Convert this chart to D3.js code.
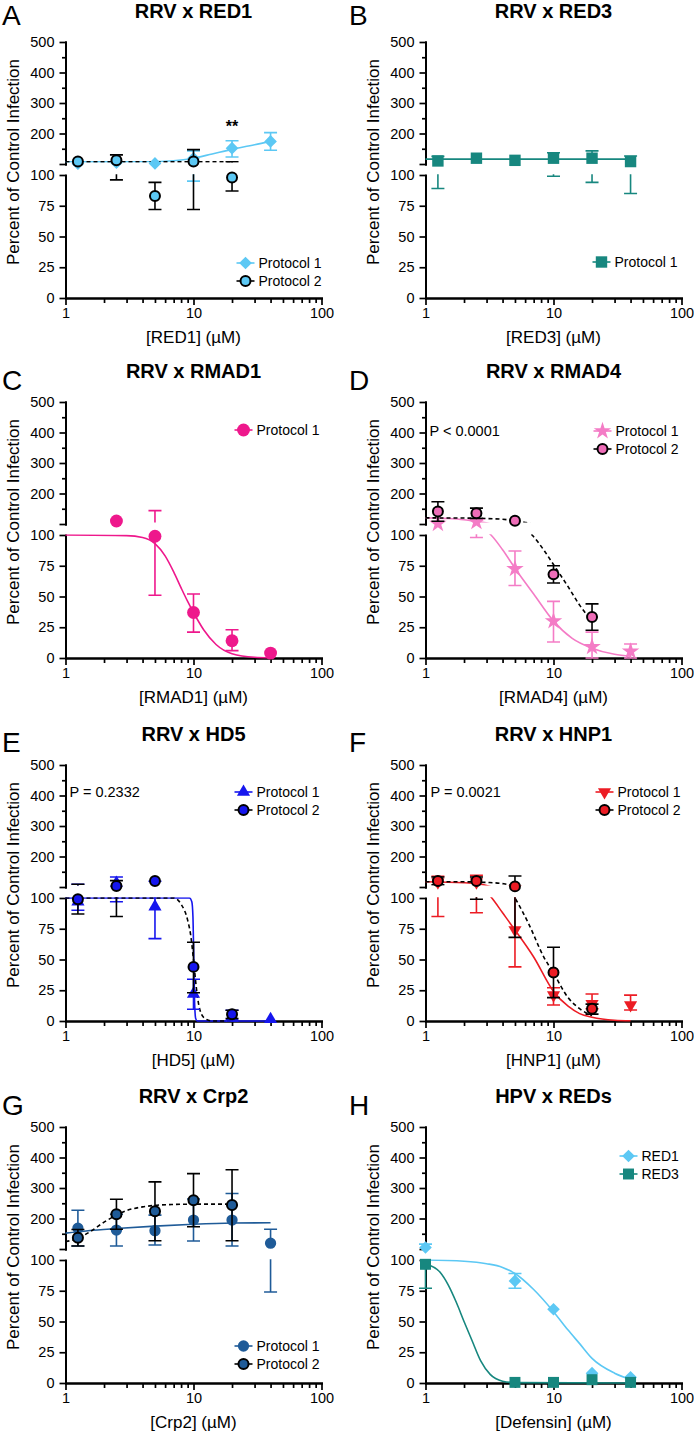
<!DOCTYPE html>
<html>
<head>
<meta charset="utf-8">
<script src="https://cdn.jsdelivr.net/npm/d3@7"></script>
<style>
  body { margin: 0; background: #fff; }
  svg { display: block; }
</style>
</head>
<body>
<svg id="fig" width="694" height="1431"></svg>
<script>
// ---- ticks ----
const xMajor = [1, 10, 100];
const xMinor = [2, 3, 4, 5, 6, 7, 8, 9, 20, 30, 40, 50, 60, 70, 80, 90];
const yLowTicks = [0, 25, 50, 75, 100];
const yHighTicks = [100, 200, 300, 400, 500];
const yHighMinor = [150, 250, 350, 450];

// ---- points: [dose µM, mean, low, high] ----
const red1P1 = [[1.25,101,null,null],[2.5,104,null,null],[5,102,null,null],[10,119,95,143],[20,152,123,176],[40,174,145,203]];
const red1P2 = [[1.25,108,null,null],[2.5,112,96,130],[5,83,72,94],[10,108,72,147],[20,98,87,107]];
const red3P1 = [[1.25,110,89,125],[2.5,119,null,null],[5,112,null,null],[10,119,99,137],[20,119,94,143],[40,108,85,126]];
const rmad1P1 = [[2.5,110,null,null],[5,99,51,144],[10,37,21,52],[20,14,6,23],[40,4,null,null]];
const rmad4P1 = [[1.25,101,null,null],[2.5,107,98,116],[5,72.5,59,87],[10,30,13,46],[20,9,0,21],[40,5.4,0,11.4]];
const rmad4P2 = [[1.25,141,109,173],[2.5,135,118,152],[5,111,null,null],[10,68,61,75],[20,33.4,22.6,44]];
const hd5P1 = [[1.25,97,90,109],[2.5,113,97,133],[5,93,67,119],[10,22,9.6,34],[20,4,0,8.8],[40,1.4,null,null]];
const hd5P2 = [[1.25,99,87,109],[2.5,103,85,121],[5,120,null,null],[10,44,23,64],[20,5.5,2,8.8]];
const hnp1P1 = [[1.25,116,85,135],[2.5,116,88,138],[5,74,44,104],[10,21,13,27],[20,14,10,22],[40,13,9,21]];
const hnp1P2 = [[1.25,120,107,133],[2.5,120,99,133],[5,102,68,136],[10,39.5,19,60],[20,10,5.6,13.7]];
const crp2P1 = [[1.25,168,110,227],[2.5,162,110,214],[5,160,113,211],[10,195,126,264],[20,195,110,282],[40,119,74,165]];
const crp2P2 = [[1.25,137,110,164],[2.5,214,165,263],[5,224,127,320],[10,260,173,347],[20,244,127,360]];
const hpvRed1 = [[1,105,null,116],[5,83,77,89],[10,60,null,null],[20,8,null,null],[40,4.6,null,null]];
const hpvRed3 = [[1,96.5,77,null],[5,0.5,null,null],[10,0.5,null,null],[20,2.7,null,null],[40,0.5,null,null]];

// ---- fitted curves: [dose µM, value] ----
const red1P1Fit = [[1,107],[2,107],[4,107.5],[6,109],[8,113],[10,119],[14,133],[20,148],[30,163],[40,175]];
const red1P2Fit = [[1,107],[20,107]];
const red3P1Fit = [[1,116],[40,116]];
const rmad1P1Fit = [[1,100],[3,99.5],[4,98],[5,93],[6,83],[7,70],[8,57],[9,46],[10,37],[12,23],[15,11],[20,3.5],[30,0.6],[40,0.2]];
const rmad4P1Fit = [[1,120],[1.5,118],[2,114],[2.5,108],[3.25,100],[4,88],[5,73],[7,52],[10,30],[14,16],[20,8],[30,3],[40,1.5]];
const rmad4P2Fit = [[1,120],[2,119.5],[3,118],[4,115.5],[5,111],[6,105],[6.8,100],[8.5,87],[10,76],[13,58],[16,43],[20,30]];
const hd5P1Fit = [[1,100],[9.3,100],[9.7,97],[9.9,85],[10.05,50],[10.2,15],[10.4,2],[10.7,0],[40,0]];
const hd5P2Fit = [[1,100],[7,100],[8,95],[9,82],[9.5,70],[10,50],[10.5,28],[11,13],[12,3],[14,0],[20,0]];
const hnp1P1Fit = [[1,117],[2,114],[2.5,111],[3,105],[3.3,100],[4,88],[5,74],[7,52],[10,24],[13,12],[16,6],[20,3],[30,0.6],[40,0.2]];
const hnp1P2Fit = [[1,117],[2,117],[3,115],[4,111],[4.6,106],[5,100],[6.4,79],[8.4,52],[10,39],[13,19],[16,10],[20,4.5]];
const crp2P1Fit = [[1,152],[1.5,160],[2.5,167],[5,175],[10,181],[20,185],[40,186]];
const crp2P2Fit = [[1,124],[1.25,135],[1.6,160],[2,188],[2.5,211],[3,226],[4,238],[5,243],[7,246],[10,247],[20,247]];
const hpvRed1Fit = [[1,100],[2,99],[3,97],[4,94],[5,89],[7,76],[10,58],[13,43],[16,32],[20,20],[30,8],[40,3]];
const hpvRed3Fit = [[1,97],[1.3,90],[1.5,80],[1.75,65],[2,50],[2.3,35],[2.7,18],[3.2,7],[4,1.5],[5,0.3],[40,0]];

// ---- colours ----
const sky = "#5CC8F4", teal = "#17877F", hotPink = "#EE188C", lightPink = "#F47CC6",
      blue = "#1616EE", red = "#EC1C24", navy = "#1F5B98";

const panels = [
  { letter:"A", title:"RRV x RED1", xlab:"[RED1] (µM)", col:0, row:0, legend:[180,221],
    notes:[{text:"**", dose:20, dy:90, bold:true, size:16}],
    series:[
      { name:"Protocol 1", pts:red1P1, fit:red1P1Fit, line:sky, sym:"diamond", size:80, fill:sky },
      { name:"Protocol 2", pts:red1P2, fit:red1P2Fit, line:"#000", dashed:true, sym:"circle", size:78, fill:sky, stroke:"#000" } ] },
  { letter:"B", title:"RRV x RED3", xlab:"[RED3] (µM)", col:1, row:0, legend:[176,220], notes:[],
    series:[
      { name:"Protocol 1", pts:red3P1, fit:red3P1Fit, line:teal, sym:"square", size:130, fill:teal } ] },
  { letter:"C", title:"RRV x RMAD1", xlab:"[RMAD1] (µM)", col:0, row:1, legend:[178,28], notes:[],
    series:[
      { name:"Protocol 1", pts:rmad1P1, fit:rmad1P1Fit, line:hotPink, sym:"circle", size:130, fill:hotPink } ] },
  { letter:"D", title:"RRV x RMAD4", xlab:"[RMAD4] (µM)", col:1, row:1, legend:[177,29],
    notes:[{text:"P < 0.0001", dx:4, dy:29}],
    series:[
      { name:"Protocol 1", pts:rmad4P1, fit:rmad4P1Fit, line:lightPink, sym:"star", size:95, fill:lightPink },
      { name:"Protocol 2", pts:rmad4P2, fit:rmad4P2Fit, line:"#000", dashed:true, sym:"circle", size:78, fill:"#EE6DB8", stroke:"#000" } ] },
  { letter:"E", title:"RRV x HD5", xlab:"[HD5] (µM)", col:0, row:2, legend:[178,27],
    notes:[{text:"P = 0.2332", dx:4, dy:27}],
    series:[
      { name:"Protocol 1", pts:hd5P1, fit:hd5P1Fit, line:blue, sym:"tri", size:75, fill:blue },
      { name:"Protocol 2", pts:hd5P2, fit:hd5P2Fit, line:"#000", dashed:true, sym:"circle", size:78, fill:blue, stroke:"#000" } ] },
  { letter:"F", title:"RRV x HNP1", xlab:"[HNP1] (µM)", col:1, row:2, legend:[179,27],
    notes:[{text:"P = 0.0021", dx:5, dy:27}],
    series:[
      { name:"Protocol 1", pts:hnp1P1, fit:hnp1P1Fit, line:red, sym:"triDown", size:75, fill:red },
      { name:"Protocol 2", pts:hnp1P2, fit:hnp1P2Fit, line:"#000", dashed:true, sym:"circle", size:78, fill:red, stroke:"#000" } ] },
  { letter:"G", title:"RRV x Crp2", xlab:"[Crp2] (µM)", col:0, row:3, legend:[178,219], notes:[],
    series:[
      { name:"Protocol 1", pts:crp2P1, fit:crp2P1Fit, line:navy, sym:"circle", size:100, fill:navy },
      { name:"Protocol 2", pts:crp2P2, fit:crp2P2Fit, line:"#000", dashed:true, sym:"circle", size:80, fill:navy, stroke:"#000" } ] },
  { letter:"H", title:"HPV x REDs", xlab:"[Defensin] (µM)", col:1, row:3, legend:[203,29], notes:[],
    series:[
      { name:"RED1", pts:hpvRed1, fit:hpvRed1Fit, line:sky, sym:"diamond", size:80, fill:sky },
      { name:"RED3", pts:hpvRed3, fit:hpvRed3Fit, line:teal, sym:"square", size:120, fill:teal } ] }
];

// ---- layout ----
const FONT = "'Liberation Sans', Arial, Helvetica, sans-serif";
const colX = [65.5, 425.5], colLeft = [0, 347];
const rowY = [42, 402, 765, 1127], letterY = [25, 390, 752, 1115];
const W = 256, UH = 122, LT = 133, H = 256;
const SYM = {
  diamond:[d3.symbolSquare,45], circle:[d3.symbolCircle,0], square:[d3.symbolSquare,0],
  star:[d3.symbolStar,0], tri:[d3.symbolTriangle,0], triDown:[d3.symbolTriangle,180]
};

const svg = d3.select("#fig").attr("font-family", FONT);
const defs = svg.append("defs");

function marker(sel, s){
  sel.attr("d", d3.symbol(SYM[s.sym][0], s.size))
    .attr("fill", s.fill)
    .attr("stroke", s.stroke || "none")
    .attr("stroke-width", s.stroke ? 2 : 0);
}

panels.forEach((p, i) => {
  const x0 = colX[p.col], y0 = rowY[p.row];
  const g = svg.append("g").attr("transform", `translate(${x0},${y0})`);

  const x = d3.scaleLog().domain([1, 100]).range([0, W]);
  const yHi = d3.scaleLinear().domain([100, 500]).range([UH, 0]);
  const yLo = d3.scaleLinear().domain([0, 100]).range([H, LT]);
  const yOf = v => v > 100 ? yHi(v) : yLo(v);

  // each segment of the broken axis gets its own clip
  defs.append("clipPath").attr("id", "up" + i).append("rect")
    .attr("x", -30).attr("y", -5).attr("width", W + 60).attr("height", UH - 1.5 + 5);
  defs.append("clipPath").attr("id", "lo" + i).append("rect")
    .attr("x", -30).attr("y", LT - 0.75).attr("width", W + 60).attr("height", H - LT + 4);
  const layers = [[yHi, "up" + i], [yLo, "lo" + i]];

  // panel letter + title
  svg.append("text").attr("x", colLeft[p.col] + 2).attr("y", letterY[p.row])
    .attr("font-size", 28).text(p.letter);
  g.append("text").attr("x", W / 2).attr("y", -24).attr("text-anchor", "middle")
    .attr("font-size", 20).attr("font-weight", "bold").text(p.title);

  // axes
  const ax = g.append("g");
  ax.append("g").call(d3.axisLeft(yHi).tickValues(yHighTicks).tickSize(6).tickPadding(5)
    .tickSizeOuter(0).tickFormat(d => d === 100 ? "" : d));
  ax.append("g").call(d3.axisLeft(yHi).tickValues(yHighMinor).tickSize(3.5).tickSizeOuter(0).tickFormat(""));
  ax.append("g").call(d3.axisLeft(yLo).tickValues(yLowTicks).tickSize(6).tickPadding(5).tickSizeOuter(0));
  ax.append("g").attr("transform", `translate(0,${H})`)
    .call(d3.axisBottom(x).tickValues(xMajor).tickSize(7).tickPadding(3).tickSizeOuter(0).tickFormat(d3.format("d")));
  ax.append("g").attr("transform", `translate(0,${H})`)
    .call(d3.axisBottom(x).tickValues(xMinor).tickSize(5).tickSizeOuter(0).tickFormat(""));
  ax.selectAll(".domain").attr("stroke-width", 2).attr("stroke-linecap", "square");
  ax.selectAll(".tick line").attr("stroke-width", 1.7);
  ax.selectAll("text").attr("font-family", FONT).attr("font-size", 14.5);

  // axis titles
  g.append("text").attr("x", W / 2).attr("y", H + 45).attr("text-anchor", "middle")
    .attr("font-size", 17).text(p.xlab);
  g.append("text").attr("transform", `translate(-52,${120}) rotate(-90)`)
    .attr("text-anchor", "middle").attr("dy", "0.35em").attr("font-size", 17)
    .text("Percent of Control Infection");

  // fitted curves (drawn on both axis segments, each clipped)
  p.series.forEach(s => {
    layers.forEach(([yS, id]) => {
      g.append("path").datum(s.fit).attr("clip-path", `url(#${id})`)
        .attr("d", d3.line().x(d => x(d[0])).y(d => yS(d[1])).curve(d3.curveMonotoneX))
        .attr("fill", "none").attr("stroke", s.line).attr("stroke-width", 1.6)
        .attr("stroke-dasharray", s.dashed ? "4,3" : null);
    });
  });

  // error bars + markers
  p.series.forEach(s => {
    layers.forEach(([yS, id]) => {
      const eg = g.append("g").attr("clip-path", `url(#${id})`)
        .attr("stroke", s.line).attr("stroke-width", 1.6);
      s.pts.filter(d => d[2] != null || d[3] != null).forEach(d => {
        const cx = x(d[0]);
        const a = d[2] != null ? d[2] : d[1], b = d[3] != null ? d[3] : d[1];
        eg.append("line").attr("x1", cx).attr("x2", cx).attr("y1", yS(a)).attr("y2", yS(b));
        [d[2], d[3]].filter(v => v != null).forEach(v => {
          eg.append("line").attr("x1", cx - 6.5).attr("x2", cx + 6.5).attr("y1", yS(v)).attr("y2", yS(v));
        });
      });
    });
    g.append("g").selectAll("path").data(s.pts).join("path")
      .call(marker, s)
      .attr("transform", d => `translate(${x(d[0])},${yOf(d[1])}) rotate(${SYM[s.sym][1]})`);
  });

  // legend
  const lg = g.append("g").attr("transform", `translate(${p.legend[0]},${p.legend[1]})`);
  p.series.forEach((s, k) => {
    const r = lg.append("g").attr("transform", `translate(0,${k * 18})`);
    r.append("line").attr("x1", -9).attr("x2", 9).attr("stroke", s.line).attr("stroke-width", 1.6);
    r.append("path").call(marker, s).attr("transform", `rotate(${SYM[s.sym][1]})`);
    r.append("text").attr("x", 13).attr("dy", "0.35em").attr("font-size", 14).text(s.name);
  });

  // notes (stats)
  p.notes.forEach(n => {
    const t = g.append("text").attr("y", n.dy).attr("font-size", n.size || 14.5).text(n.text);
    if (n.dose) t.attr("x", x(n.dose)).attr("text-anchor", "middle");
    else t.attr("x", n.dx).attr("dy", "0.35em");
    if (n.bold) t.attr("font-weight", "bold");
  });
});
</script>
</body>
</html>
